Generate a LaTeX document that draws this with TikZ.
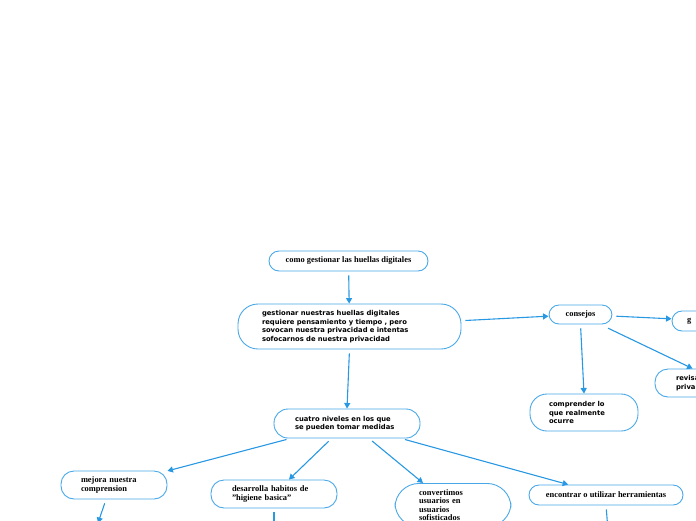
\documentclass[tikz,border=0pt]{standalone}
\usepackage{fontspec}
\setmainfont{Liberation Serif}
\newfontfamily\boxsans{DejaVu Sans}
\usepackage{tikz}
\usetikzlibrary{positioning,arrows.meta,calc}
\definecolor{linkblue}{RGB}{40,152,226}
\definecolor{boxblue}{RGB}{72,168,232}

\begin{document}
\begin{tikzpicture}[
  x=1pt, y=-1pt,
  every node/.style={inner sep=0pt},
  bx/.style={draw=boxblue, line width=0.9pt, rounded corners=10pt, align=left},
  sansbx/.style={bx, font=\boxsans\bfseries\fontsize{6.8}{8.5}\selectfont},
  serifbx/.style={bx, font=\bfseries\fontsize{8.4}{8.5}\selectfont},
  link/.style={draw=linkblue, line width=1.1pt, shorten <=4pt, -{Triangle[length=5.5pt,width=6pt]}},
]
\useasboundingbox (0,0) rectangle (696,520);

% top of the map
\node[serifbx, align=center, minimum width=159pt, minimum height=20pt] (como) at (348.5,261) {como gestionar las huellas digitales};
\node[sansbx, text width=175pt, inner xsep=24pt, minimum height=45pt, rounded corners=20pt] (gest) at (349.5,326.5) {gestionar nuestras huellas digitales\\ requiere pensamiento y tiempo , pero\\ sovocan nuestra privacidad e intentas\\ sofocarnos de nuestra privacidad};

% consejos branch
\node[serifbx, align=center, minimum width=63pt, minimum height=19pt] (consejos) at (580.5,314.5) {consejos};
\node[serifbx, text width=60pt, inner xsep=15pt, minimum height=20pt] (cons1) at (717,321) {g};
\node[sansbx, text width=48pt, inner xsep=21pt, minimum height=28pt, rounded corners=13pt] (revisa) at (700,383) {revisa\\ priva};
\node[sansbx, text width=70pt, inner xsep=19pt, minimum height=37pt, rounded corners=17pt] (comprender) at (584,412.5) {comprender lo\\ que realmente\\ ocurre};

% niveles
\node[sansbx, text width=104pt, inner xsep=21pt, minimum height=29pt, rounded corners=14pt] (cuatro) at (347,423.5) {cuatro niveles en los que\\ se pueden tomar medidas};
\node[serifbx, text width=66pt, inner xsep=20pt, minimum height=28pt, rounded corners=13pt] (mejora) at (114,485) {mejora nuestra\\ comprension};
\node[serifbx, text width=84pt, inner xsep=21pt, minimum height=28pt, rounded corners=13pt] (habitos) at (274,494) {desarrolla habitos de\\ "higiene basica"};
\node[serifbx, text width=68pt, inner xsep=24pt, inner ysep=6pt, anchor=north, rounded corners=24pt] (usuarios) at (453,483) {convertimos\\ usuarios en\\ usuarios\\ sofisticados};
\node[serifbx, align=center, minimum width=154pt, minimum height=20pt] (herram) at (606,495) {encontrar o utilizar herramientas};

% free ends below the page edge
\coordinate (mejoraout) at (98,523);
\coordinate (habitosout) at (274,530);
\coordinate (herramout) at (608,530);

\draw[link] (como) -- (gest);
\draw[link] (gest) -- (consejos);
\draw[link] (consejos) -- (cons1);
\draw[link] ($(consejos.south east)+(-8,2)$) -- ($(revisa.north west)+(38,0)$);
\draw[link] (consejos.south) -- (comprender.north);
\draw[link] (gest.south) -- (cuatro.north);
\draw[link] (cuatro) -- (mejora);
\draw[link] (cuatro) -- (habitos);
\draw[link] ($(cuatro.south)+(22,0)$) -- ($(usuarios.north)+(-30,0)$);
\draw[link] (cuatro) -- (herram);
\draw[link] ($(mejora.south)+(-8,0)$) -- (mejoraout);
\draw[link] (habitos.south) -- (habitosout);
\draw[link] (herram.south) -- (herramout);
\end{tikzpicture}
\end{document}
